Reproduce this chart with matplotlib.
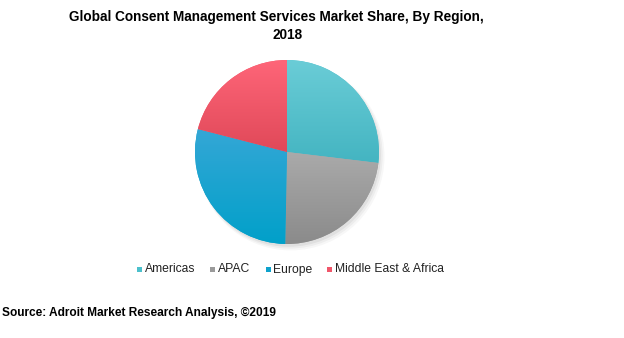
import matplotlib
matplotlib.use("Agg")
import matplotlib.pyplot as plt
import numpy as np
from matplotlib.colors import LinearSegmentedColormap
from matplotlib.patches import Rectangle

plt.rcParams['font.family'] = ['Liberation Sans', 'DejaVu Sans']

regions = ["Americas", "APAC", "Europe", "Middle East & Africa"]
shares = [26.9, 23.4, 28.7, 21.0]
colors_top = ["#6bcdd7", "#ababab", "#35a7d6", "#ff6679"]
colors_bottom = ["#43b4c1", "#8a8a8a", "#00a0c9", "#df4858"]
legend_colors = ["#4bc0cc", "#9a9a9a", "#0ea2cc", "#f0566a"]

W, H = 624, 338
fig = plt.figure(figsize=(W / 100, H / 100), dpi=100)

# pie axes: center (287,152), radius 92 px
cx, cy, r = 287, 152, 92
size = 200
ax = fig.add_axes([(cx - size / 2) / W, (H - cy - size / 2) / H, size / W, size / H])
lim = (size / 2) / r

# soft shadow
for k, a in enumerate([0.05, 0.04, 0.03]):
    sh = plt.Circle((0.02 + 0.01 * k, -0.03 - 0.01 * k), 1.0 + 0.01 * k, color='black',
                    alpha=a, zorder=0, lw=0)
    ax.add_patch(sh)

wedges, _ = ax.pie(shares, startangle=90, counterclock=False, radius=1.0,
                   colors=legend_colors, wedgeprops=dict(linewidth=0))
ax.set_xlim(-lim, lim)
ax.set_ylim(-lim, lim)
ax.set_aspect('equal')
ax.axis('off')

for w, ct, cb in zip(wedges, colors_top, colors_bottom):
    path = w.get_path()
    verts = w.get_transform().transform(path.vertices)
    dverts = ax.transData.inverted().transform(verts)
    x0, x1 = dverts[:, 0].min(), dverts[:, 0].max()
    y0, y1 = dverts[:, 1].min(), dverts[:, 1].max()
    cmap = LinearSegmentedColormap.from_list("g", [cb, ct])
    grad = np.linspace(1, 0, 256).reshape(-1, 1)
    im = ax.imshow(grad, cmap=cmap, extent=[x0 - 0.02, x1 + 0.02, y0 - 0.02, y1 + 0.02],
                   aspect='auto', zorder=2, interpolation='bilinear', origin='upper')
    im.set_clip_path(w)

# title
fig.text(276 / W, 1 - 17.5 / H, "Global Consent Management Services Market Share, By Region,",
         ha='center', va='center', fontsize=9.85, fontweight='bold')
fig.text(288 / W, 1 - 35 / H, "2018",
         ha='center', va='center', fontsize=9.85, fontweight='bold')

# legend
items = [(139, regions[0]), (212, regions[1]), (268, regions[2]), (329.5, regions[3])]
ly = 269
lax = fig.add_axes([0, 0, 1, 1], facecolor='none')
lax.set_xlim(0, W)
lax.set_ylim(H, 0)
lax.axis('off')
for (x, lab), c in zip(items, legend_colors):
    lax.add_patch(Rectangle((x - 2.5, ly - 2.5), 5, 5, color=c, lw=0))
    lax.text(x + 5.5, ly + 0.5, lab, ha='left', va='center', fontsize=8.7, color='#222222')

# source
fig.text(2 / W, 1 - 313 / H, "Source: Adroit Market Research Analysis, \u00a92019",
         ha='left', va='center', fontsize=8.6, fontweight='bold')

fig.savefig("out.png", dpi=100, facecolor='white')
